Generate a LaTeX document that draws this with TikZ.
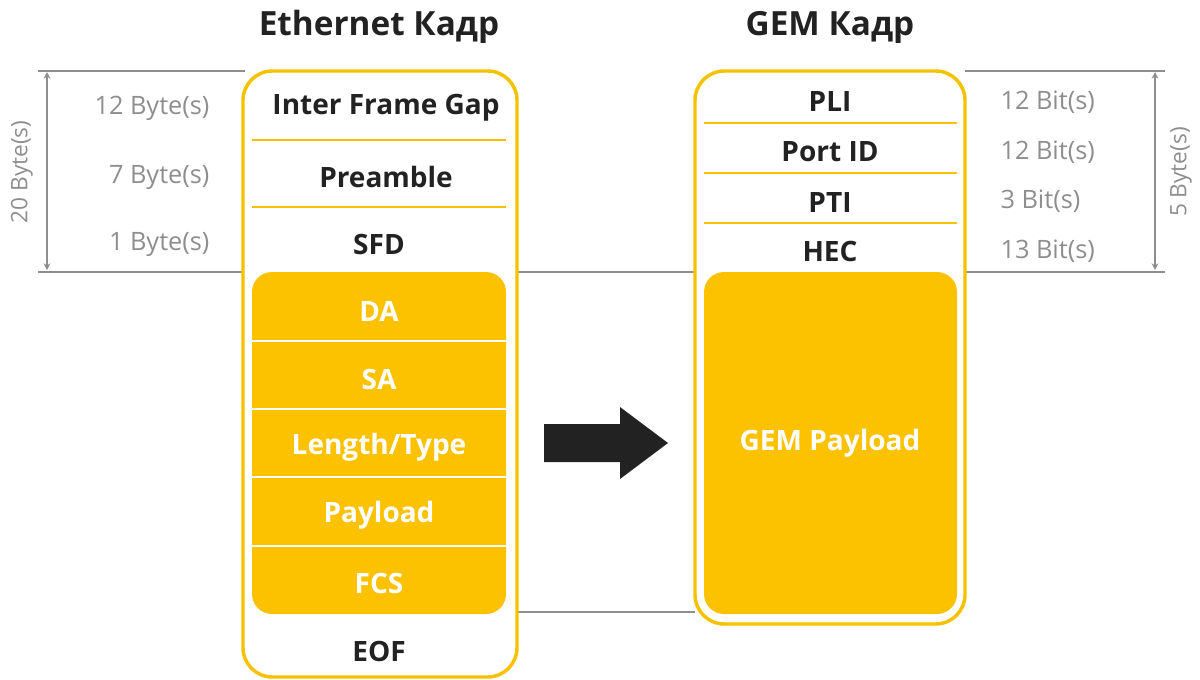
\documentclass[tikz,border=0pt]{standalone}
\usepackage{fontspec}
\setmainfont{Open Sans}
\usetikzlibrary{arrows.meta}

\definecolor{gold}{HTML}{F6C200}
\definecolor{goldfill}{HTML}{FCC200}
\definecolor{dimgray}{HTML}{8E8E8E}
\definecolor{ink}{HTML}{222222}

\tikzset{every picture/.style={line width=0.75pt}}
\tikzset{
  field/.style={text=ink,font=\fontsize{21}{25}\selectfont\bfseries,inner sep=0.75pt},
  payfield/.style={field,text=white},
  sizelbl/.style={text=dimgray,font=\fontsize{19}{22}\selectfont,inner sep=0.75pt},
  sidelbl/.style={text=dimgray,font=\fontsize{17}{20}\selectfont,inner sep=0.75pt,rotate=90},
  framettl/.style={text=ink,font=\fontsize{25}{30}\selectfont\bfseries,inner sep=0.75pt},
  rule/.style={draw=dimgray,line width=1.5pt},
  dimline/.style={draw=dimgray,line width=1.5pt,{Stealth[length=5pt,width=5pt]}-{Stealth[length=5pt,width=5pt]}},
  outerbox/.style={draw=gold,line width=2.6pt,fill=white,rounded corners=22pt},
  innerbox/.style={fill=goldfill,rounded corners=15pt},
  sep/.style={draw=gold,line width=1.1pt},
  whitesep/.style={draw=white,line width=1.2pt},
}

\begin{document}
\begin{tikzpicture}[x=0.75pt,y=0.75pt,yscale=-1]
\useasboundingbox (0,0) rectangle (1200,679);

%Straight Lines: guides behind the frames
\draw[rule] (38,71) -- (245,71) ;
\draw[rule] (965,71) -- (1165,71) ;
\draw[rule] (38,272) -- (1165,272) ;
\draw[rule] (517,612) -- (695,612) ;

% Dimension arrows
\coordinate (lt) at (47,72);
\coordinate (lb) at (47,270);
\coordinate (rt) at (1155,72);
\coordinate (rb) at (1155,270);
\draw[dimline] (lt) -- (lb) ;
\draw[dimline] (rt) -- (rb) ;
\node[sidelbl] (hdrl) at (22,172) {20 Byte(s)};
\node[sidelbl] (hdrr) at (1181,172) {5 Byte(s)};

%Shape: Ethernet frame
\draw[outerbox] (243,71) rectangle (517,677) ;
\fill[innerbox] (252,272) rectangle (506,614) ;
\draw[sep] (252,140) -- (506,140) ;
\draw[sep] (252,207) -- (506,207) ;
\draw[whitesep] (252,341) -- (506,341) ;
\draw[whitesep] (252,409) -- (506,409) ;
\draw[whitesep] (252,477) -- (506,477) ;
\draw[whitesep] (252,546) -- (506,546) ;

%Shape: GEM frame
\draw[outerbox] (695,71) rectangle (965,624) ;
\fill[innerbox] (704,272) rectangle (957,614) ;
\draw[sep] (704,123) -- (957,123) ;
\draw[sep] (704,173) -- (957,173) ;
\draw[sep] (704,223) -- (957,223) ;

%Shape: Block arrow
\fill[ink] (544,424) -- (620,424) -- (620,407) -- (668,443) -- (620,479) -- (620,462) -- (544,462) -- cycle ;

% Titles
\node[framettl] (ethttl) at (379,27) {Ethernet Кадр};
\node[framettl] (gemttl) at (830,27) {GEM Кадр};

% Ethernet fields
\node[field] (ifg) at (386,108) {Inter Frame Gap};
\node[field] (pre) at (386,177) {Preamble};
\node[field] (sfd) at (379,244) {SFD};
\node[payfield] (da) at (379,311) {DA};
\node[payfield] (sa) at (379,379) {SA};
\node[payfield] (lentype) at (379,447) {Length/Type};
\node[payfield] (pay) at (379,515) {Payload};
\node[payfield] (fcs) at (379,583) {FCS};
\node[field] (eof) at (379,651) {EOF};

% Ethernet sizes
\node[sizelbl,anchor=east] (sifg) at (211,108) {12 Byte(s)};
\node[sizelbl,anchor=east] (spre) at (211,177) {7 Byte(s)};
\node[sizelbl,anchor=east] (ssfd) at (211,244) {1 Byte(s)};

% GEM fields
\node[field] (pli) at (830,102) {PLI};
\node[field] (pid) at (830,152) {Port ID};
\node[field] (pti) at (830,202) {PTI};
\node[field] (hec) at (830,251) {HEC};
\node[payfield] (gpay) at (830,443) {GEM Payload};

% GEM sizes
\node[sizelbl,anchor=west] (spli) at (999,102) {12 Bit(s)};
\node[sizelbl,anchor=west] (spid) at (999,152) {12 Bit(s)};
\node[sizelbl,anchor=west] (spti) at (999,201) {3 Bit(s)};
\node[sizelbl,anchor=west] (shec) at (999,251) {13 Bit(s)};

\end{tikzpicture}
\end{document}
